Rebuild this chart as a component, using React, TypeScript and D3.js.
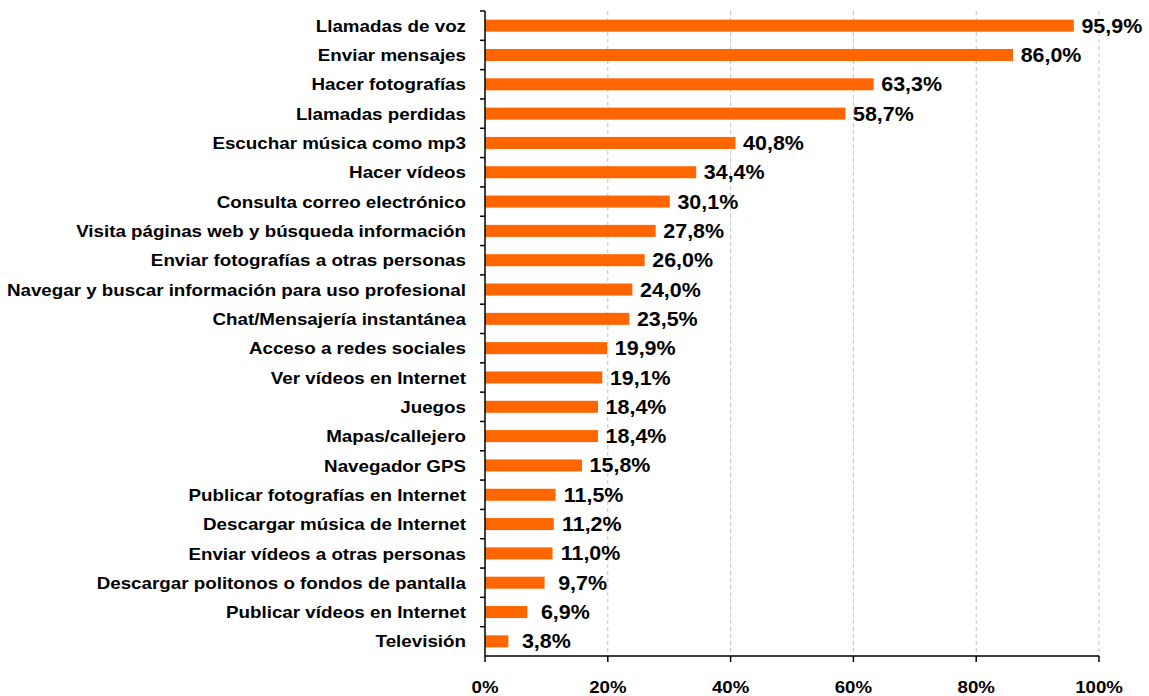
import React, { useEffect, useRef } from 'react';
import * as d3 from 'd3';

const categories = [
  'Llamadas de voz',
  'Enviar mensajes',
  'Hacer fotografías',
  'Llamadas perdidas',
  'Escuchar música como mp3',
  'Hacer vídeos',
  'Consulta correo electrónico',
  'Visita páginas web y búsqueda información',
  'Enviar fotografías a otras personas',
  'Navegar y buscar información para uso profesional',
  'Chat/Mensajería instantánea',
  'Acceso a redes sociales',
  'Ver vídeos en Internet',
  'Juegos',
  'Mapas/callejero',
  'Navegador GPS',
  'Publicar fotografías en Internet',
  'Descargar música de Internet',
  'Enviar vídeos a otras personas',
  'Descargar politonos o fondos de pantalla',
  'Publicar vídeos en Internet',
  'Televisión',
];

const values = [
  95.9, 86.0, 63.3, 58.7, 40.8, 34.4, 30.1, 27.8, 26.0, 24.0, 23.5, 19.9, 19.1,
  18.4, 18.4, 15.8, 11.5, 11.2, 11.0, 9.7, 6.9, 3.8,
];

const xTicks = [0, 20, 40, 60, 80, 100];

const W = 1149;
const H = 696;
const FONT = '"Liberation Sans", Arial, sans-serif';

export default function App() {
  const svgRef = useRef<SVGSVGElement>(null);

  useEffect(() => {
    const svg = d3.select(svgRef.current);
    svg.selectAll('*').remove();

    const left = 485;
    const right = 1099;
    const top = 11;
    const bottom = 656;

    const x = d3.scaleLinear().domain([0, 100]).range([left, right]);
    const y = d3.scaleBand().domain(categories).range([top, bottom]).paddingInner(0.59).paddingOuter(0.295);
    const band = d3.scaleBand().domain(categories).range([top, bottom]);

    // gridlines
    svg
      .append('g')
      .selectAll('line')
      .data(xTicks.filter((d) => d > 0))
      .enter()
      .append('line')
      .attr('x1', (d) => x(d))
      .attr('x2', (d) => x(d))
      .attr('y1', top)
      .attr('y2', bottom)
      .attr('stroke', '#c0c0c0')
      .attr('stroke-width', 1)
      .attr('stroke-dasharray', '4,3');

    // bars
    svg
      .append('g')
      .selectAll('rect')
      .data(values)
      .enter()
      .append('rect')
      .attr('x', x(0))
      .attr('y', (d, i) => y(categories[i])!)
      .attr('width', (d) => x(d) - x(0))
      .attr('height', y.bandwidth())
      .attr('fill', '#ff6600');

    // value labels (centred a bit past the bar end, slightly wide text)
    svg
      .append('g')
      .selectAll('text')
      .data(values)
      .enter()
      .append('text')
      .attr(
        'transform',
        (d, i) => `translate(${x(d) + 38},${y(categories[i])! + y.bandwidth() / 2}) scale(1.1,1)`
      )
      .attr('dy', '0.36em')
      .attr('text-anchor', 'middle')
      .attr('font-family', FONT)
      .attr('font-weight', 'bold')
      .attr('font-size', 19.5)
      .attr('fill', '#000')
      .text((d) => d.toFixed(1).replace('.', ',') + '%');

    // y axis
    const yg = svg.append('g');
    yg.append('line')
      .attr('x1', left)
      .attr('x2', left)
      .attr('y1', top)
      .attr('y2', bottom)
      .attr('stroke', '#000')
      .attr('stroke-width', 1.5);
    yg.selectAll('line.tick')
      .data(categories)
      .enter()
      .append('line')
      .attr('class', 'tick')
      .attr('x1', left - 5)
      .attr('x2', left)
      .attr('y1', (d) => band(d)!)
      .attr('y2', (d) => band(d)!)
      .attr('stroke', '#000')
      .attr('stroke-width', 1.5);
    yg.selectAll('text')
      .data(categories)
      .enter()
      .append('text')
      .attr('transform', (d) => `translate(466,${band(d)! + band.bandwidth() / 2}) scale(1.105,1)`)
      .attr('dy', '0.36em')
      .attr('text-anchor', 'end')
      .attr('font-family', FONT)
      .attr('font-weight', 'bold')
      .attr('font-size', 17)
      .attr('fill', '#000')
      .text((d) => d);

    // x axis
    const xg = svg.append('g');
    xg.append('line')
      .attr('x1', left)
      .attr('x2', right)
      .attr('y1', bottom)
      .attr('y2', bottom)
      .attr('stroke', '#000')
      .attr('stroke-width', 1.5);
    xg.selectAll('line.tick')
      .data(xTicks)
      .enter()
      .append('line')
      .attr('class', 'tick')
      .attr('x1', (d) => x(d))
      .attr('x2', (d) => x(d))
      .attr('y1', bottom)
      .attr('y2', bottom + 6)
      .attr('stroke', '#000')
      .attr('stroke-width', 1.5);
    xg.selectAll('text')
      .data(xTicks)
      .enter()
      .append('text')
      .attr('transform', (d) => `translate(${x(d)},693) scale(1.13,1)`)
      .attr('text-anchor', 'middle')
      .attr('font-family', FONT)
      .attr('font-weight', 'bold')
      .attr('font-size', 16.5)
      .attr('fill', '#000')
      .text((d) => d + '%');
  }, []);

  return (
    <svg
      ref={svgRef}
      width={W}
      height={H}
      style={{ position: 'absolute', left: 0, top: 0, background: '#fff' }}
    />
  );
}
